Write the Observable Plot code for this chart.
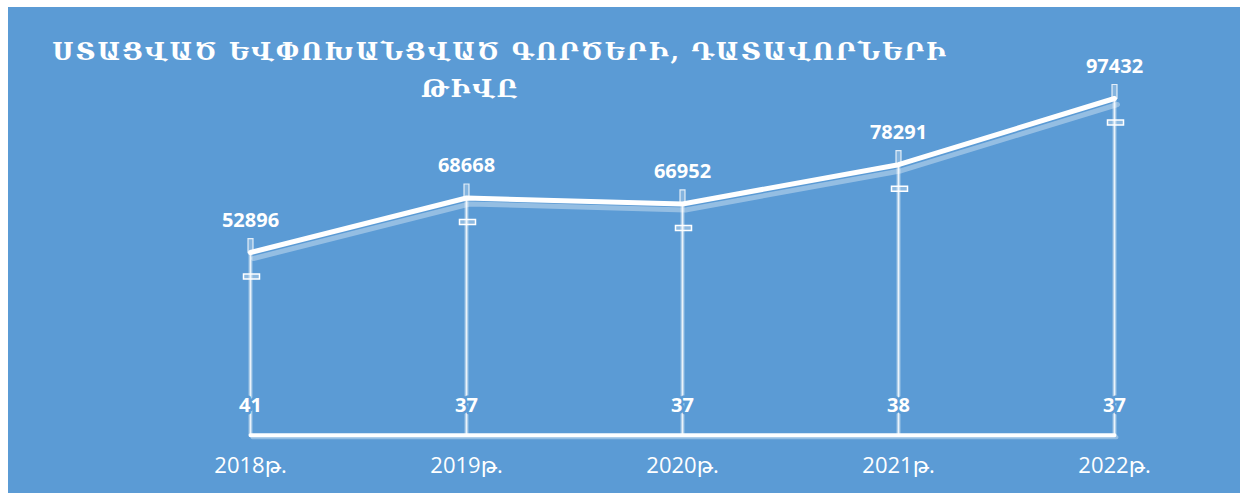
<!DOCTYPE html>
<html>
<head>
<meta charset="utf-8">
<script src="https://cdn.jsdelivr.net/npm/d3@7"></script>
<script src="https://cdn.jsdelivr.net/npm/@observablehq/plot@0.6"></script>
<style>
  html, body { margin: 0; padding: 0; background: #ffffff; }
  #panel { position: absolute; left: 8px; top: 7px; width: 1232px; height: 486px; background: #5B9BD5; overflow: hidden; }
  #title { position: absolute; left: 0; top: 0; width: 1232px; color: #ffffff; font-family: "DejaVu Serif", serif; font-weight: bold; font-size: 24.5px; letter-spacing: 2.05px; pointer-events: none; }
  #title .l1 { position: absolute; left: 0; width: 984px; text-align: center; top: 30px; white-space: nowrap; }
  #title .l2 { position: absolute; left: 0; width: 924px; text-align: center; top: 67px; white-space: nowrap; }
  #chart { position: absolute; left: 0; top: 0; }
</style>
</head>
<body>
<div id="panel">
  <div id="chart"></div>
  <div id="title"><div class="l1">ՍՏԱՑՎԱԾ ԵՎՓՈԽԱՆՑՎԱԾ ԳՈՐԾԵՐԻ, ԴԱՏԱՎՈՐՆԵՐԻ</div><div class="l2">ԹԻՎԸ</div></div>
</div>
<script>
const years = ["2018թ.", "2019թ.", "2020թ.", "2021թ.", "2022թ."];
const cases = [52896, 68668, 66952, 78291, 97432];
const defendants = [41, 37, 37, 38, 37];

const caseRows = years.map((year, i) => ({year, value: cases[i]}));
const defRows = years.map((year, i) => ({year, value: defendants[i]}));

const font = "'Open Sans', 'DejaVu Sans', sans-serif";
const bg = "#5B9BD5";

// small flat rectangle used as a cap marker
const capSymbol = {draw(ctx) { ctx.moveTo(-8, -2.5); ctx.lineTo(8, -2.5); ctx.lineTo(8, 2.5); ctx.lineTo(-8, 2.5); ctx.closePath(); }};
// tall narrow rectangle used as the stub above points
const stubSymbol = {draw(ctx) { ctx.moveTo(-2.5, -14); ctx.lineTo(2.5, -14); ctx.lineTo(2.5, 0); ctx.lineTo(-2.5, 0); ctx.closePath(); }};

const chart = Plot.plot({
  width: 1232,
  height: 486,
  marginTop: 91,
  marginBottom: 58,
  marginLeft: 241,
  marginRight: 126,
  style: {background: "transparent", fontFamily: font, color: "#ffffff", overflow: "visible"},
  x: {type: "point", domain: years, padding: 0},
  y: {domain: [0, 97432], axis: null},
  marks: [
    // drop lines (wide faint + thin bright)
    Plot.ruleX(caseRows, {x: "year", y1: 0, y2: "value", stroke: "#ffffff", strokeOpacity: 0.2, strokeWidth: 5}),
    Plot.ruleX(caseRows, {x: "year", y1: 0, y2: "value", stroke: "#ffffff", strokeOpacity: 0.85, strokeWidth: 2}),
    // outlined stub above the points
    Plot.dot(caseRows, {x: "year", y: "value", symbol: stubSymbol, fill: "#ffffff", fillOpacity: 0.25, stroke: "#ffffff", strokeOpacity: 0.8, strokeWidth: 1.2}),
    // shadow of the top line
    Plot.line(caseRows, {x: "year", y: "value", dx: 3, dy: 6, stroke: "#ffffff", strokeOpacity: 0.35, strokeWidth: 5}),
    // main top line
    Plot.line(caseRows, {x: "year", y: "value", stroke: "#ffffff", strokeWidth: 5}),
    // caps below the points
    Plot.dot(caseRows, {x: "year", y: "value", dx: 1, dy: 24, symbol: capSymbol, fill: "#ffffff", fillOpacity: 0.3, stroke: "#ffffff", strokeWidth: 1.5}),
    // bottom line shadow and line
    Plot.line(defRows, {x: "year", y: "value", dx: 2, dy: 2, stroke: "#ffffff", strokeOpacity: 0.35, strokeWidth: 4}),
    Plot.line(defRows, {x: "year", y: "value", stroke: "#ffffff", strokeWidth: 4}),
    // value labels
    Plot.text(caseRows, {x: "year", y: "value", text: d => String(d.value), dy: -32, fill: "#ffffff", fontSize: 20, fontWeight: "bold"}),
    Plot.text(defRows, {x: "year", y: "value", text: d => String(d.value), dy: -30, fill: "#ffffff", stroke: bg, strokeWidth: 5, fontSize: 20, fontWeight: "bold"}),
    Plot.axisX({tickSize: 0, tickPadding: 22, fontSize: 22, fill: "#ffffff", label: null})
  ]
});
document.getElementById("chart").appendChild(chart);
</script>
</body>
</html>
